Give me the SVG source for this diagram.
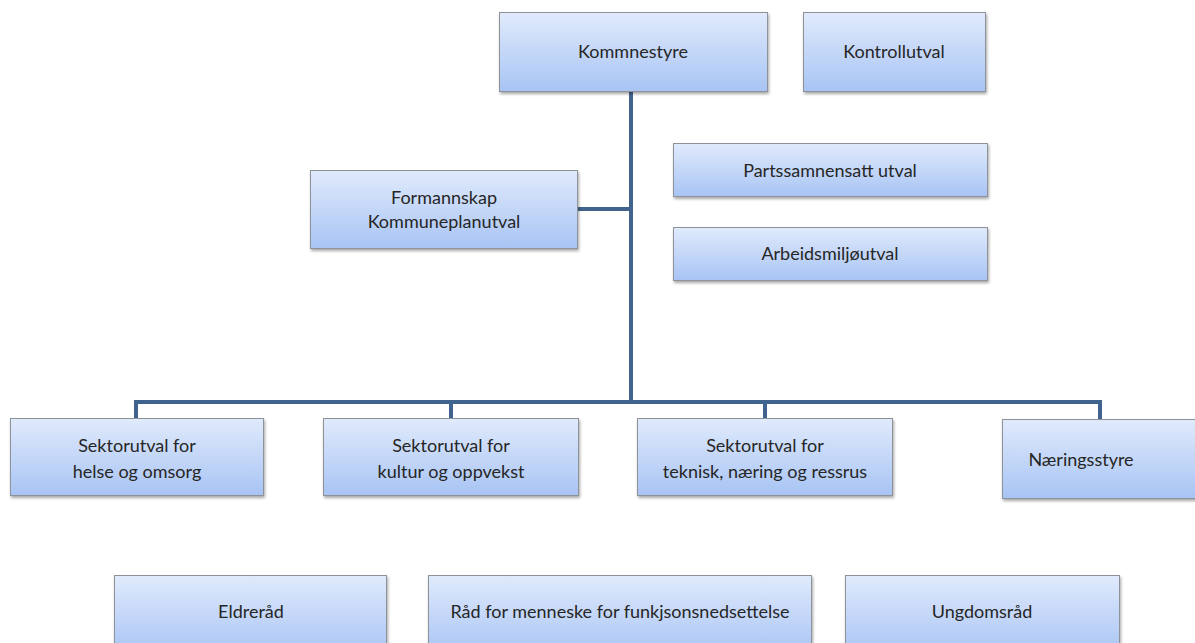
<svg xmlns="http://www.w3.org/2000/svg" width="1195" height="643" viewBox="0 0 1195 643">
<defs>
<linearGradient id="g" x1="0" y1="0" x2="0" y2="1">
<stop offset="0" stop-color="#e0eafc"/>
<stop offset="1" stop-color="#a8c4f4"/>
</linearGradient>
<filter id="sh" x="-10%" y="-10%" width="120%" height="130%">
<feDropShadow dx="1" dy="2" stdDeviation="1.5" flood-color="#000" flood-opacity="0.35"/>
</filter>
</defs>
<style>
.b{fill:url(#g);stroke:#8e9299;stroke-width:1;filter:url(#sh)}
.t{font-family:Lato,"Open Sans","Liberation Sans",sans-serif;font-size:18px;fill:#262626;text-anchor:middle}
.c{fill:none;stroke:#41648f;stroke-width:4}
</style>
<rect width="1195" height="643" fill="#fff"/>
<g id="connectors">
<path class="c" d="M631 91V402"/>
<path class="c" d="M577 209H631"/>
<path class="c" d="M136 418V402H1100V419"/>
<path class="c" d="M451 402V418"/>
<path class="c" d="M765 402V418"/>
</g>
<g id="kommnestyre"><rect class="b" x="499.5" y="12.5" width="268" height="79"/><text class="t" x="633" y="58">Kommnestyre</text></g>
<g id="kontrollutval"><rect class="b" x="803.5" y="12.5" width="182" height="79"/><text class="t" x="894" y="58">Kontrollutval</text></g>
<g id="formannskap"><rect class="b" x="310.5" y="170.5" width="267" height="78"/><text class="t" x="444" y="204">Formannskap</text><text class="t" x="444" y="228">Kommuneplanutval</text></g>
<g id="partssamnensatt"><rect class="b" x="673.5" y="143.5" width="314" height="53"/><text class="t" x="830" y="177">Partssamnensatt utval</text></g>
<g id="arbeidsmiljo"><rect class="b" x="673.5" y="227.5" width="314" height="53"/><text class="t" x="830" y="260">Arbeidsmiljøutval</text></g>
<g id="sektor-helse"><rect class="b" x="10.5" y="418.5" width="253" height="77"/><text class="t" x="137" y="452">Sektorutval for</text><text class="t" x="137" y="478">helse og omsorg</text></g>
<g id="sektor-kultur"><rect class="b" x="323.5" y="418.5" width="255" height="77"/><text class="t" x="451" y="452">Sektorutval for</text><text class="t" x="451" y="478">kultur og oppvekst</text></g>
<g id="sektor-teknisk"><rect class="b" x="637.5" y="418.5" width="255" height="77"/><text class="t" x="765" y="452">Sektorutval for</text><text class="t" x="765" y="478">teknisk, næring og ressrus</text></g>
<g id="naeringsstyre"><rect class="b" x="1002.5" y="419.5" width="200" height="79"/><text class="t" x="1081" y="466">Næringsstyre</text></g>
<g id="eldrerad"><rect class="b" x="114.5" y="575.5" width="272" height="80"/><text class="t" x="251" y="618">Eldreråd</text></g>
<g id="rad-menneske"><rect class="b" x="428.5" y="575.5" width="383" height="80"/><text class="t" x="620" y="618">Råd for menneske for funkjsonsnedsettelse</text></g>
<g id="ungdomsrad"><rect class="b" x="845.5" y="575.5" width="274" height="80"/><text class="t" x="982" y="618">Ungdomsråd</text></g>
</svg>
